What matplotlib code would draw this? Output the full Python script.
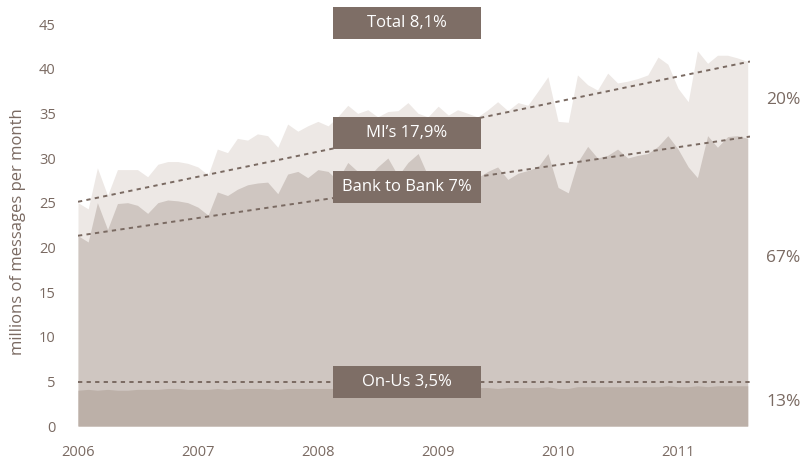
import numpy as np
import pandas as pd
import matplotlib
matplotlib.use("Agg")
import matplotlib.pyplot as plt
import matplotlib.dates as mdates
from matplotlib.patches import Rectangle

# monthly volumes, millions of messages (cumulative levels of the stacked areas)
months = pd.date_range("2006-01-01", periods=68, freq="MS")

total = [25.0, 24.3, 28.9, 25.8, 28.7, 28.7, 28.7, 27.9, 29.3, 29.6, 29.6, 29.4,
         29.0, 28.1, 31.0, 30.6, 32.2, 32.0, 32.7, 32.5, 31.2, 33.8, 33.0, 33.6,
         34.1, 33.6, 34.6, 35.9, 35.0, 35.4, 34.6, 35.2, 35.3, 36.2, 35.0, 34.6,
         35.8, 34.8, 35.4, 35.0, 34.6, 35.4, 36.3, 35.3, 36.2, 35.9, 37.5, 39.1,
         34.1, 34.0, 39.3, 38.2, 37.6, 39.5, 38.4, 38.6, 38.9, 39.3, 41.3, 40.5,
         37.8, 36.3, 42.0, 40.6, 41.5, 41.5, 41.2, 40.8]

bank_top = [21.3, 20.6, 25.0, 22.0, 24.9, 25.0, 24.7, 23.8, 25.0, 25.3, 25.2, 25.0,
            24.5, 23.6, 26.2, 25.8, 26.5, 27.0, 27.2, 27.3, 26.0, 28.2, 28.5, 27.8,
            28.7, 28.5, 27.5, 29.5, 28.5, 27.8, 29.0, 30.0, 28.0, 29.5, 30.5, 28.0,
            27.5, 27.8, 28.0, 28.2, 27.8, 28.5, 29.0, 27.6, 28.3, 28.6, 29.0, 30.5,
            26.7, 26.1, 29.5, 31.3, 30.0, 30.3, 31.0, 30.0, 30.3, 30.5, 31.3, 32.5,
            31.0, 29.0, 27.8, 32.5, 31.2, 32.4, 32.5, 32.2]

onus = [4.0, 4.1, 4.0, 4.1, 4.0, 4.0, 4.1, 4.1, 4.1, 4.2, 4.2, 4.1,
        4.1, 4.1, 4.2, 4.1, 4.2, 4.2, 4.2, 4.2, 4.1, 4.2, 4.2, 4.2,
        4.2, 4.2, 4.2, 4.2, 4.3, 4.2, 4.2, 4.2, 4.3, 4.3, 4.2, 4.3,
        4.3, 4.3, 4.2, 4.3, 4.3, 4.3, 4.2, 4.3, 4.3, 4.3, 4.3, 4.4,
        4.2, 4.2, 4.4, 4.4, 4.4, 4.4, 4.4, 4.4, 4.4, 4.4, 4.4, 4.5,
        4.4, 4.4, 4.5, 4.4, 4.5, 4.5, 4.5, 4.5]

# linear trend lines (start, end)
trend_total = [25.1, 40.8]
trend_bank = [21.3, 32.4]
trend_onus = [4.9, 4.9]

labels = ["Total 8,1%", "MI\u2019s 17,9%", "Bank to Bank 7%", "On-Us 3,5%"]
shares = ["20%", "67%", "13%"]
share_levels = [36.5, 18.8, 2.7]
years = [2006, 2007, 2008, 2009, 2010, 2011]

light = "#ede8e5"
mid = "#cfc6c1"
dark = "#bcb0a8"
box = "#7e6e66"
txt = "#7a6a62"

plt.rcParams["font.family"] = ["Open Sans", "DejaVu Sans"]

fig = plt.figure(figsize=(8.03, 4.59), dpi=100)
ax = fig.add_axes([78 / 803, 1 - 426 / 459, 672 / 803, 402 / 459])

ax.fill_between(months, 0, total, color=light, lw=0)
ax.fill_between(months, 0, bank_top, color=mid, lw=0)
ax.fill_between(months, 0, onus, color=dark, lw=0)

x0 = pd.Timestamp("2006-01-01")
x1 = pd.Timestamp("2011-08-08")
for tr in (trend_total, trend_bank, trend_onus):
    ax.plot([x0, x1], tr, color=txt, lw=1.4, ls=(0, (2.2, 2.2)))

ax.set_xlim(x0, x1)
ax.set_ylim(0, 45)
ax.set_yticks(range(0, 46, 5))
ax.set_xticks([pd.Timestamp(f"{y}-01-01") for y in years])
ax.xaxis.set_major_formatter(mdates.DateFormatter("%Y"))
ax.tick_params(length=0, colors=txt, labelsize=10.5)
ax.tick_params(axis="y", pad=16)
ax.tick_params(axis="x", pad=14)
for s in ax.spines.values():
    s.set_visible(False)

fig.text(18 / 803, 1 - 232 / 459, "millions of messages per month", rotation=90,
         ha="center", va="center", color=txt, fontsize=12)

# label boxes sitting on the trend lines
bx0 = pd.Timestamp("2008-02-15")
bx1 = pd.Timestamp("2009-05-10")
bw = mdates.date2num(bx1) - mdates.date2num(bx0)
frac = (mdates.date2num(bx0) + bw / 2 - mdates.date2num(x0)) / (mdates.date2num(x1) - mdates.date2num(x0))
centers = [45.1,
           trend_total[0] + frac * (trend_total[1] - trend_total[0]),
           trend_bank[0] + frac * (trend_bank[1] - trend_bank[0]),
           trend_onus[0] + frac * (trend_onus[1] - trend_onus[0])]
bh = 3.55
for lab, c in zip(labels, centers):
    ax.add_patch(Rectangle((mdates.date2num(bx0), c - bh / 2), bw, bh, color=box,
                           lw=0, clip_on=False, zorder=5))
    ax.text(mdates.date2num(bx0) + bw / 2, c, lab, color="white", fontsize=12,
            ha="center", va="center", zorder=6, clip_on=False)

for s, lv in zip(shares, share_levels):
    ax.text(1.05, lv, s, transform=ax.get_yaxis_transform(), color=txt,
            fontsize=12.5, ha="center", va="center")

fig.savefig("out.png", dpi=100)
